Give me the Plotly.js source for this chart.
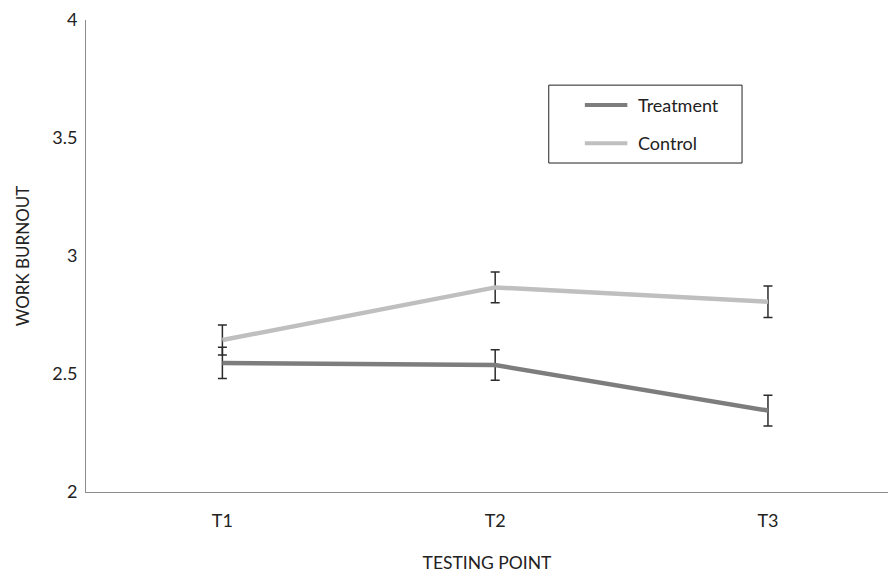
<!DOCTYPE html>
<html>
<head>
<meta charset="utf-8">
<script src="https://cdn.plot.ly/plotly-3.0.1.min.js"></script>
<style>html,body{margin:0;padding:0;background:#fff;overflow:hidden}</style>
</head>
<body>
<div id="chart" style="width:892px;height:573px"></div>
<script>
var categories = ["T1", "T2", "T3"];
var seriesNames = ["Treatment", "Control"];
var treatment = [2.547, 2.538, 2.345];
var treatmentErr = [0.066, 0.065, 0.065];
var control = [2.644, 2.867, 2.806];
var controlErr = [0.064, 0.065, 0.067];
var yTicks = [2, 2.5, 3, 3.5, 4];
var yTickText = ["2", "2.5", "3", "3.5", "4"];

var xIdx = categories.map(function (c, i) { return i; });
var font = "Lato, 'Open Sans', sans-serif";
var colors = ["#7d7d7d", "#bfbfbf"];

var traces = [
  {
    x: xIdx, y: treatment, name: seriesNames[0], type: "scatter", mode: "lines",
    line: {color: colors[0], width: 4.5},
    error_y: {type: "data", array: treatmentErr, visible: true, color: "#2b2b2b", thickness: 1.5, width: 4.5}
  },
  {
    x: xIdx, y: control, name: seriesNames[1], type: "scatter", mode: "lines",
    line: {color: colors[1], width: 4.5},
    error_y: {type: "data", array: controlErr, visible: true, color: "#2b2b2b", thickness: 1.5, width: 4.5}
  }
];

// manual legend (box, sample lines, labels) in paper coordinates
var legBox = {x0: 0.577, x1: 0.818, y0: 0.697, y1: 0.862};
var legRows = [0.820, 0.739];
var shapes = [{
  type: "rect", xref: "paper", yref: "paper",
  x0: legBox.x0, x1: legBox.x1, y0: legBox.y0, y1: legBox.y1,
  line: {color: "#222222", width: 1}, fillcolor: "#ffffff", layer: "below"
}];
var annotations = [];
seriesNames.forEach(function (n, i) {
  shapes.push({
    type: "line", xref: "paper", yref: "paper",
    x0: 0.622, x1: 0.675, y0: legRows[i], y1: legRows[i],
    line: {color: colors[i], width: 4}
  });
  annotations.push({
    xref: "paper", yref: "paper", x: 0.686, y: legRows[i],
    xanchor: "left", yanchor: "middle", showarrow: false, text: n,
    font: {family: font, size: 18, color: "#222222"}
  });
});

var layout = {
  width: 892, height: 573,
  margin: {l: 86, r: 4, t: 20, b: 81},
  paper_bgcolor: "#ffffff", plot_bgcolor: "#ffffff",
  font: {family: font, size: 18, color: "#222222"},
  showlegend: false,
  shapes: shapes,
  annotations: annotations,
  xaxis: {
    range: [-0.5, 2.44],
    tickvals: xIdx, ticktext: categories,
    showline: true, linecolor: "#8c8c8c", linewidth: 1,
    showgrid: false, zeroline: false, ticks: "",
    ticklabelstandoff: 12,
    tickfont: {family: font, size: 18, color: "#222222"},
    title: {text: "TESTING POINT", font: {family: font, size: 17.5, color: "#222222"}, standoff: 30}
  },
  yaxis: {
    range: [2, 4],
    tickvals: yTicks, ticktext: yTickText,
    showline: true, linecolor: "#8c8c8c", linewidth: 1,
    showgrid: false, zeroline: false, ticks: "",
    ticklabelstandoff: 4,
    tickfont: {family: font, size: 18, color: "#222222"},
    title: {text: "WORK BURNOUT", font: {family: font, size: 17, color: "#222222"}, standoff: 18}
  }
};

Plotly.newPlot("chart", traces, layout, {displayModeBar: false, staticPlot: true});
</script>
</body>
</html>
